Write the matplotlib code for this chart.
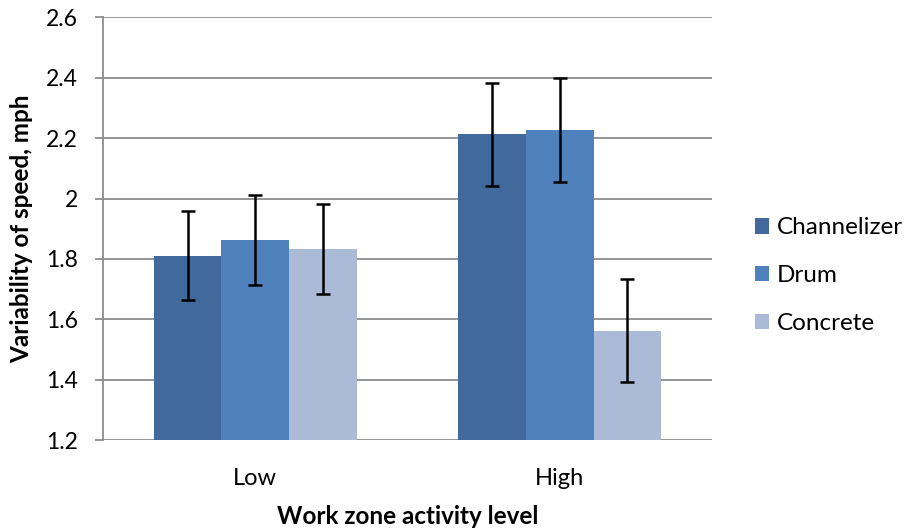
import matplotlib.pyplot as plt
import numpy as np

# data
levels = ['Low', 'High']
series = ['Channelizer', 'Drum', 'Concrete']
means = {
    'Channelizer': [1.811, 2.213],
    'Drum': [1.862, 2.227],
    'Concrete': [1.832, 1.562],
}
errors = {
    'Channelizer': [0.147, 0.170],
    'Drum': [0.149, 0.171],
    'Concrete': [0.149, 0.170],
}
colors = ['#41699C', '#4F81BD', '#AABAD7']

plt.rcParams['font.family'] = ['Lato', 'DejaVu Sans']

fig = plt.figure(figsize=(9.08, 5.29), dpi=100)
ax = fig.add_axes([0.1134, 0.1682, 0.6707, 0.7988])

x = np.arange(len(levels))
width = 1 / 4.5
for i, name in enumerate(series):
    ax.bar(x + (i - 1) * width, means[name], width, color=colors[i],
           label=name, zorder=2)
    ax.errorbar(x + (i - 1) * width, means[name], yerr=errors[name],
                fmt='none', ecolor='black', elinewidth=1.8, capsize=5,
                capthick=1.8, zorder=3)

ax.set_xlim(-0.5, 1.5)
ax.set_ylim(1.2, 2.6)
ax.set_yticks(np.arange(1.2, 2.61, 0.2))
ax.set_yticklabels(['1.2', '1.4', '1.6', '1.8', '2', '2.2', '2.4', '2.6'])
ax.set_xticks(x)
ax.set_xticklabels(levels)
ax.yaxis.grid(True, color='#8C8C8C', linewidth=1.3, zorder=0)
ax.set_axisbelow(True)

for s in ['top', 'right', 'bottom']:
    ax.spines[s].set_visible(False)
ax.spines['left'].set_color('#8C8C8C')
ax.spines['left'].set_linewidth(1.3)
ax.tick_params(axis='y', length=6, width=1.3, color='#8C8C8C',
               labelsize=16.5, pad=12)
ax.tick_params(axis='x', length=0, labelsize=17, pad=20)

ax.set_ylabel('Variability of speed, mph', fontsize=17.5,
              fontweight='bold', labelpad=9)
ax.set_xlabel('Work zone activity level', fontsize=17.5,
              fontweight='bold', labelpad=12)

ax.legend(loc='center left', bbox_to_anchor=(1.07, 0.389), frameon=False,
          fontsize=17.5, handlelength=0.6, handleheight=0.6,
          handletextpad=0.3, labelspacing=1.1, borderpad=0,
          borderaxespad=0)

fig.savefig('out.png', dpi=100)
